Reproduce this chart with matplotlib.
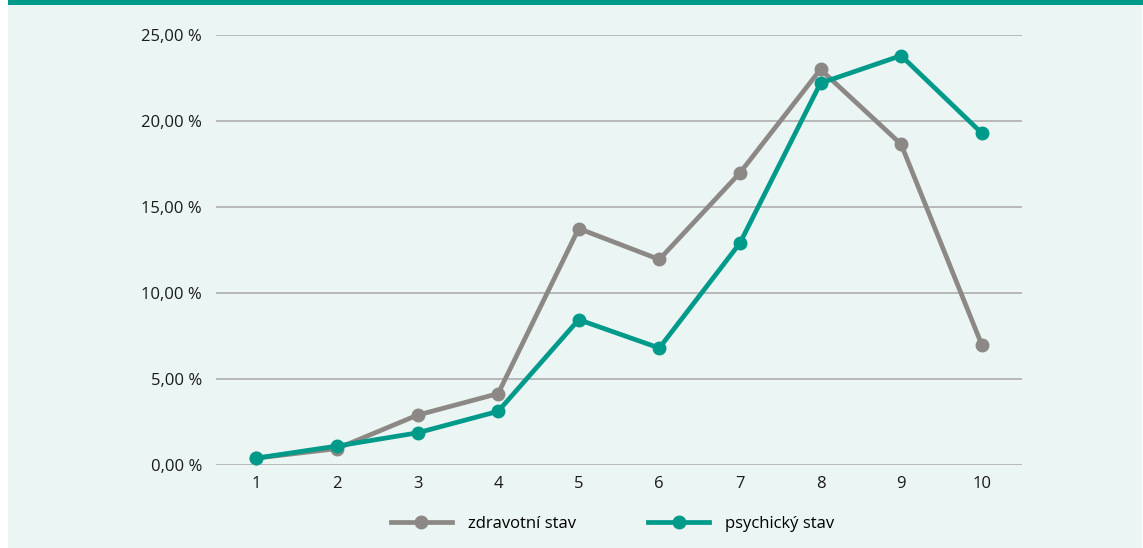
import matplotlib
matplotlib.use("Agg")
import matplotlib.pyplot as plt
from matplotlib.patches import Rectangle
from matplotlib.ticker import FuncFormatter

categories = [1, 2, 3, 4, 5, 6, 7, 8, 9, 10]
zdravotni = [0.4, 0.95, 2.9, 4.15, 13.75, 11.95, 16.98, 23.0, 18.65, 7.0]
psychicky = [0.4, 1.1, 1.87, 3.12, 8.45, 6.8, 12.9, 22.2, 23.8, 19.3]
labels = ["zdravotní stav", "psychický stav"]
yticks = [0, 5, 10, 15, 20, 25]

GRAY = "#8C8886"
TEAL = "#009A8A"
BG = "#EBF5F3"

plt.rcParams['font.family'] = ['Open Sans', 'DejaVu Sans']

W, H = 1143, 548
fig = plt.figure(figsize=(W / 100, H / 100), dpi=100)
fig.patch.set_facecolor("white")
fig.add_artist(Rectangle((8 / W, 0), (W - 9) / W, 1, transform=fig.transFigure,
                         facecolor=BG, edgecolor="none", zorder=0))
fig.add_artist(Rectangle((8 / W, 1 - 5 / H), (W - 8) / W, 5 / H, transform=fig.transFigure,
                         facecolor=TEAL, edgecolor="none", zorder=1))

ax = fig.add_axes([216 / W, 1 - 465 / H, (1022 - 216) / W, (465 - 35) / H])
ax.set_facecolor("none")
ax.plot(categories, zdravotni, color=GRAY, lw=3.4, marker="o", ms=9, label=labels[0],
        solid_joinstyle="round", zorder=3)
ax.plot(categories, psychicky, color=TEAL, lw=3.4, marker="o", ms=9, label=labels[1],
        solid_joinstyle="round", zorder=4)

ax.set_xlim(0.5, 10.5)
ax.set_ylim(0, 25)
ax.set_yticks(yticks)
ax.set_xticks(categories)
ax.yaxis.set_major_formatter(FuncFormatter(lambda v, p: f"{v:.2f}".replace(".", ",") + " %"))
ax.grid(axis="y", color="#B8B8B8", lw=1.4, zorder=0)
ax.set_axisbelow(True)
for s in ax.spines.values():
    s.set_visible(False)
ax.tick_params(axis="both", length=0, labelsize=12, colors="#1a1a1a")
ax.tick_params(axis="y", pad=10)
ax.tick_params(axis="x", pad=8)

fig.legend(loc="center", bbox_to_anchor=(612.5 / W, 1 - 524 / H), ncol=2, frameon=False,
           fontsize=12, handlelength=3.7, columnspacing=4.3, handletextpad=0.95)

fig.savefig("out.png", dpi=100, facecolor=fig.get_facecolor())
